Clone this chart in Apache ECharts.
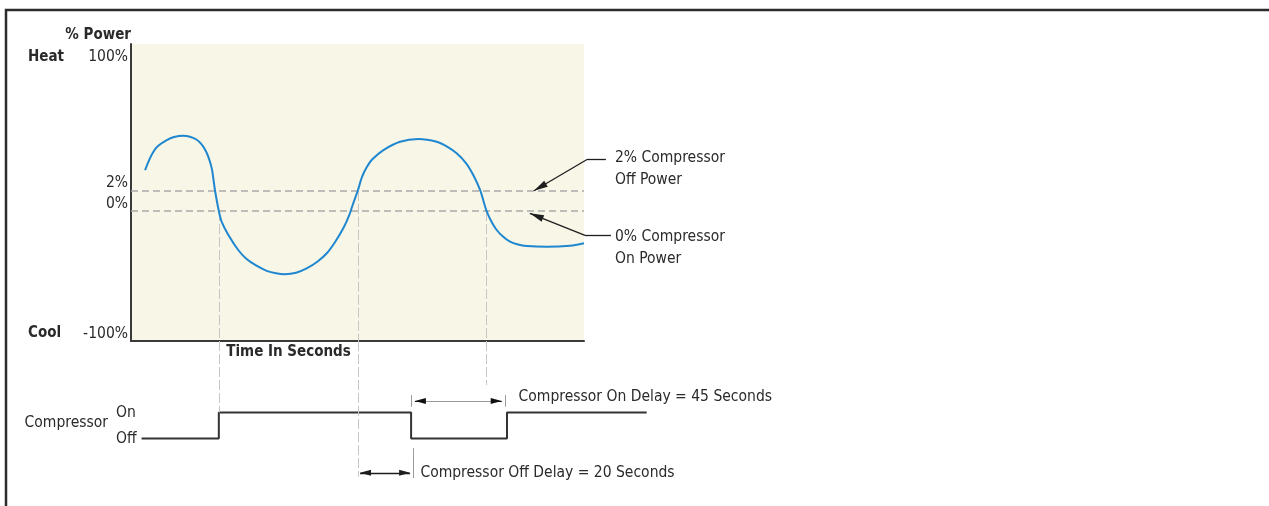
<!DOCTYPE html>
<html><head><meta charset="utf-8">
<script src="https://cdn.jsdelivr.net/npm/echarts@6/dist/echarts.min.js"></script>
<style>html,body{margin:0;padding:0;background:#fff}#c{width:1269px;height:506px}</style>
</head><body><div id="c"></div>
<script>
// ---------- data (schematic units) ----------
// time axis in seconds, power curve in schematic level units (0 = "0%" line)
const timeSec = [5.6, 7.2, 8.9, 10.7, 14.2, 17.1, 20.8, 23.4, 25.8, 27.8, 29.4, 30.7, 32.1, 32.7, 33.4, 34.9, 36.0, 38.7, 42.6, 45.7, 49.7, 53.9, 57.6, 61.2, 65.6, 69.8, 73.9, 77.8, 81.1, 84.4, 86.6, 88.3, 90.1, 91.8, 93.7, 95.8, 100.3, 106.9, 114.2, 121.5, 125.6, 129.4, 133.1, 136.0, 138.7, 141.3, 143.2, 145.3, 147.8, 150.6, 153.8, 157.2, 165.2, 174.4, 180];
const powerLevel = [31.5, 39.2, 45.6, 50.0, 54.6, 56.9, 57.9, 57.2, 55.2, 51.8, 47.3, 41.8, 32.8, 25.2, 15.6, 0, -8.2, -18.5, -30.0, -36.5, -41.9, -46.0, -47.9, -48.6, -47.5, -44.1, -39.2, -32.5, -23.8, -13.1, -3.8, 5.9, 15.6, 26.2, 33.8, 39.6, 46.9, 53.3, 55.4, 53.3, 49.6, 44.4, 36.9, 27.7, 16.2, 0, -8.1, -14.6, -19.6, -23.6, -25.8, -26.9, -27.5, -26.7, -24.8];

// y tick labels of the power plot
const yTickValues = [113, 15.6, 0, -100];
const yTickLabels = ['100%', '2%', '0%', '-100%'];
const ySideLabels = ['Heat', '', '', 'Cool'];

// threshold lines: 2% compressor off power, 0% compressor on power
const thresholdLevels = [15.6, 0];

// compressor state (0 = Off, 1 = On)
const compTime = [4.2, 34.9, 111.3, 149.4, 204.9];
const compState = [0, 1, 0, 1, 1];
const compTickValues = [0, 1];
const compTickLabels = ['Off', 'On'];

// switching instants on the power curve and where their guide lines end in the compressor panel
const switchTimes = [34.9, 90.1, 141.3];
const switchLevels = [0, 15.6, 0];
const guideEnds = [1, -1.47, 2.06];

// delay dimension arrows [start, end] in seconds, their height in compressor units
const offDelaySpan = [91.0, 110.9];
const offDelayLevel = -1.32;
const offDelayTick = [112.2, -0.37, -1.52];
const onDelaySpan = [112.8, 147.3];
const onDelayLevel = 1.44;
const onDelayTicks = [111.3, 148.6];
const onDelayTickRange = [1.67, 1.22];

// annotation texts and anchors
const delayTexts = ['Compressor On Delay = 45 Seconds', 'Compressor Off Delay = 20 Seconds'];
const delayTextAt = [[153.8, 1.61], [114.8, -1.32]];
const calloutTexts = ['2% Compressor\nOff Power', '0% Compressor\nOn Power'];
const calloutTextAt = [[192.1, 32.2], [192.1, -28.5]];
const calloutElbow = [[188.7, 39.6, 181.2], [190.7, -18.8, 180.4]]; // [textSideX, y, elbowX]
const calloutTip = [[160.1, 15.6], [158.5, -1.8]];

// ---------- layout ----------
const FONT = "'DejaVu Sans Condensed', 'Liberation Sans Narrow', sans-serif";
const TXT = '#2a2a2a';
const FS = 15.5, FSB = 15;
const PLOT_L = 131, PLOT_T = 44, PLOT_W = 453, PLOT_H = 297;
const X_MAX = 180, X_WIDE = 400;
const WIDE_W = PLOT_W * X_WIDE / X_MAX;
const Y_MIN = -100, Y_MAX = 128.5;

const guideStyle = { color: '#c6c6c6', width: 1, type: [10, 3] };
const threshStyle = { color: '#a9a9a9', width: 1.5, type: [7, 4] };
const thinGray = { color: '#9a9a9a', width: 1, type: 'solid' };
const darkLine = { color: '#1e1e1e', width: 1.3, type: 'solid' };
const headStyle = { color: '#111', width: 1, type: 'solid' };

const none = 'none';
function end(coord, style, head, size) {
  const o = { coord: coord, symbol: head ? 'triangle' : none, lineStyle: style };
  if (head) { o.symbolSize = size; o.symbolOffset = [0, '50%']; }
  return o;
}
function seg(a, b, style, headA, headB, size) {
  return [end(a, style, headA, size), end(b, style, headB, size)];
}

const powerMarks = thresholdLevels.map(v => ({ yAxis: v, symbol: none, lineStyle: threshStyle }))
  .concat(switchTimes.map((t, i) => seg([t, switchLevels[i]], [t, Y_MIN], guideStyle)));

const H = [6, 11];
const compMarks = switchTimes.map((t, i) => seg([t, 3.75], [t, guideEnds[i]], guideStyle))
  .concat([
    seg([onDelaySpan[0], onDelayLevel], [onDelaySpan[1], onDelayLevel], thinGray),
    seg([onDelaySpan[0] + 4, onDelayLevel], [onDelaySpan[0], onDelayLevel], headStyle, false, true, H),
    seg([onDelaySpan[1] - 4, onDelayLevel], [onDelaySpan[1], onDelayLevel], headStyle, false, true, H),
    seg([onDelayTicks[0], onDelayTickRange[0]], [onDelayTicks[0], onDelayTickRange[1]], thinGray),
    seg([onDelayTicks[1], onDelayTickRange[0]], [onDelayTicks[1], onDelayTickRange[1]], thinGray),
    seg([offDelaySpan[0], offDelayLevel], [offDelaySpan[1], offDelayLevel], darkLine, true, true, H),
    seg([offDelayTick[0], offDelayTick[1]], [offDelayTick[0], offDelayTick[2]], thinGray)
  ]);

const calloutMarks = [];
calloutElbow.forEach((e, i) => {
  calloutMarks.push(seg([e[0], e[1]], [e[2], e[1]], darkLine));
  calloutMarks.push(seg([e[2], e[1]], calloutTip[i], darkLine, false, true, [7, 14]));
});

function textPoints(texts, at) {
  return texts.map((t, i) => ({ coord: at[i], value: t }));
}
const textLabel = {
  show: true, position: 'right', distance: 0, color: TXT, fontFamily: FONT,
  fontSize: FS, lineHeight: 22, formatter: p => p.data.value
};

const option = {
  animation: false,
  textStyle: { fontFamily: FONT, color: TXT },
  graphic: [{
    type: 'polyline', silent: true,
    shape: { points: [[6, 506], [6, 10], [1269, 10]] },
    style: { stroke: '#2b2b2b', lineWidth: 2.5, fill: null }
  }],
  grid: [
    { left: PLOT_L, top: PLOT_T, width: PLOT_W, height: PLOT_H, show: true, backgroundColor: '#f8f6e7', borderWidth: 0, outerBoundsMode: 'none' },
    { left: PLOT_L, top: PLOT_T + PLOT_H, width: WIDE_W, height: 163.8, outerBoundsMode: 'none' },
    { left: PLOT_L, top: PLOT_T, width: WIDE_W, height: PLOT_H, outerBoundsMode: 'none' }
  ],
  xAxis: [
    {
      gridIndex: 0, type: 'value', min: 0, max: X_MAX,
      axisLine: { show: true, onZero: false, lineStyle: { color: '#3a3a3a', width: 2 } },
      axisTick: { show: false }, axisLabel: { show: false }, splitLine: { show: false },
      name: 'Time In Seconds', nameLocation: 'middle', nameGap: 4,
      nameTextStyle: { fontFamily: FONT, fontWeight: 'bold', fontSize: FSB, color: TXT, padding: [0, 138, 0, 0] }
    },
    { gridIndex: 1, type: 'value', min: 0, max: X_WIDE, show: false },
    { gridIndex: 2, type: 'value', min: 0, max: X_WIDE, show: false }
  ],
  yAxis: [
    {
      gridIndex: 0, type: 'value', min: Y_MIN, max: Y_MAX,
      axisLine: { show: true, onZero: false, lineStyle: { color: '#3a3a3a', width: 2 } },
      axisTick: { show: false }, splitLine: { show: false },
      axisLabel: {
        customValues: yTickValues, align: 'left', margin: 103, verticalAlign: 'bottom',
        formatter: v => {
          const i = yTickValues.indexOf(v);
          return '{b|' + (ySideLabels[i] || ' ') + '}{n|' + yTickLabels[i] + '}';
        },
        rich: {
          b: { width: 54, align: 'left', fontWeight: 'bold', fontSize: FSB, lineHeight: 15, color: TXT, fontFamily: FONT },
          n: { width: 46, align: 'right', fontSize: FS, lineHeight: 15, color: TXT, fontFamily: FONT }
        }
      },
      name: '% Power', nameLocation: 'end', nameGap: 0,
      nameTextStyle: { fontFamily: FONT, fontWeight: 'bold', fontSize: FSB, color: TXT, align: 'right', verticalAlign: 'bottom', lineHeight: 18 }
    },
    {
      gridIndex: 1, type: 'value', min: -2.55, max: 3.75,
      axisLine: { show: false }, axisTick: { show: false }, splitLine: { show: false },
      axisLabel: {
        customValues: compTickValues, align: 'left', margin: 15, fontSize: FS, color: TXT,
        fontFamily: FONT, padding: [0, 0, 6, 0],
        formatter: v => compTickLabels[compTickValues.indexOf(v)]
      },
      name: 'Compressor', nameLocation: 'middle', nameRotate: 0, nameGap: 23, nameMoveOverlap: false,
      nameTextStyle: { fontFamily: FONT, fontSize: FS, color: TXT }
    },
    { gridIndex: 2, type: 'value', min: Y_MIN, max: Y_MAX, show: false }
  ],
  series: [
    {
      name: 'Power', type: 'line', xAxisIndex: 0, yAxisIndex: 0,
      data: timeSec.map((t, i) => [t, powerLevel[i]]),
      smooth: 0.3, showSymbol: false, symbol: 'none', silent: true,
      lineStyle: { color: '#1f87cf', width: 2 }, z: 5,
      markLine: { silent: true, symbol: none, label: { show: false }, data: powerMarks, z: 3 }
    },
    {
      name: 'Compressor', type: 'line', xAxisIndex: 1, yAxisIndex: 1,
      data: compTime.map((t, i) => [t, compState[i]]),
      step: 'end', showSymbol: false, symbol: 'none', silent: true,
      lineStyle: { color: '#333', width: 2 },
      markLine: { silent: true, symbol: none, label: { show: false }, data: compMarks },
      markPoint: { silent: true, symbol: 'circle', symbolSize: 1, itemStyle: { color: 'rgba(0,0,0,0)' },
        label: textLabel, data: textPoints(delayTexts, delayTextAt) }
    },
    {
      name: 'Callouts', type: 'line', xAxisIndex: 2, yAxisIndex: 2, data: [], silent: true,
      markLine: { silent: true, symbol: none, label: { show: false }, data: calloutMarks },
      markPoint: { silent: true, symbol: 'circle', symbolSize: 1, itemStyle: { color: 'rgba(0,0,0,0)' },
        label: textLabel, data: textPoints(calloutTexts, calloutTextAt) }
    }
  ]
};
echarts.init(document.getElementById('c'), null, { renderer: 'canvas' }).setOption(option);
</script>
</body></html>
